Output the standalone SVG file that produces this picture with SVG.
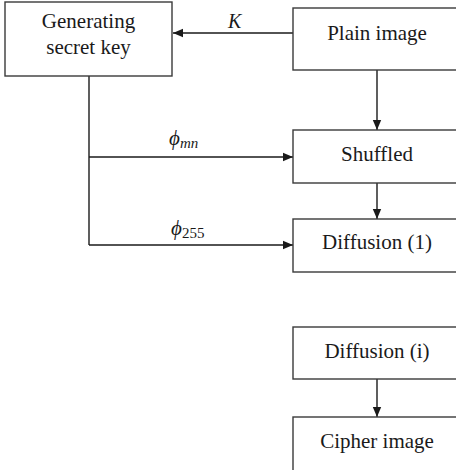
<svg xmlns="http://www.w3.org/2000/svg" width="456" height="470" viewBox="0 0 456 470">
<defs>
<marker id="ah" viewBox="0 0 10 10" refX="10" refY="5" markerWidth="10" markerHeight="10" markerUnits="userSpaceOnUse" orient="auto">
<path d="M0,0.8 L10,5 L0,9.2 Z" fill="#1a1a1a"/>
</marker>
</defs>
<style>
.box{fill:#fff;stroke:#3a3a3a;stroke-width:1.4}
.c{fill:none;stroke:#1a1a1a;stroke-width:1.4}
</style>
<rect width="456" height="470" fill="#fff"/>
<g id="connectors">
<line class="c" x1="293" y1="33" x2="173" y2="33" marker-end="url(#ah)"/>
<line class="c" x1="377" y1="70" x2="377" y2="130" marker-end="url(#ah)"/>
<polyline class="c" points="89,76 89,245"/>
<line class="c" x1="89" y1="157" x2="293" y2="157" marker-end="url(#ah)"/>
<line class="c" x1="89" y1="245" x2="293" y2="245" marker-end="url(#ah)"/>
<line class="c" x1="377" y1="183" x2="377" y2="219" marker-end="url(#ah)"/>
<line class="c" x1="377" y1="379" x2="377" y2="417" marker-end="url(#ah)"/>
<text x="228" y="28" font-family="Liberation Serif" font-size="20" fill="#1a1a1a" font-style="italic">K</text>
<text x="169" y="145" font-family="Liberation Serif" font-size="21" fill="#1a1a1a" font-style="italic">ϕ<tspan font-size="15" dy="3">mn</tspan></text>
<text x="171" y="235" font-family="Liberation Serif" font-size="21" fill="#1a1a1a" font-style="italic">ϕ<tspan font-size="15" dy="3" font-style="normal">255</tspan></text>
</g>
<g id="keygen">
<rect class="box" x="5" y="2" width="167" height="74"/>
<text x="88.5" y="28" font-family="Liberation Serif" font-size="21" fill="#1a1a1a" text-anchor="middle">Generating</text>
<text x="88.5" y="54" font-family="Liberation Serif" font-size="21" fill="#1a1a1a" text-anchor="middle">secret key</text>
</g>
<g id="plain">
<rect class="box" x="293" y="8" width="170" height="62"/>
<text x="377" y="40" font-family="Liberation Serif" font-size="21" fill="#1a1a1a" text-anchor="middle">Plain image</text>
</g>
<g id="shuffled">
<rect class="box" x="293" y="130" width="170" height="53"/>
<text x="377" y="161" font-family="Liberation Serif" font-size="21" fill="#1a1a1a" text-anchor="middle">Shuffled</text>
</g>
<g id="diff1">
<rect class="box" x="293" y="219" width="170" height="53"/>
<text x="377" y="249" font-family="Liberation Serif" font-size="21" fill="#1a1a1a" text-anchor="middle">Diffusion (1)</text>
</g>
<g id="diffi">
<rect class="box" x="293" y="327" width="170" height="52"/>
<text x="377" y="358" font-family="Liberation Serif" font-size="21" fill="#1a1a1a" text-anchor="middle">Diffusion (i)</text>
</g>
<g id="cipher">
<rect class="box" x="293" y="417" width="170" height="60"/>
<text x="377" y="448" font-family="Liberation Serif" font-size="21" fill="#1a1a1a" text-anchor="middle">Cipher image</text>
</g>
</svg>
